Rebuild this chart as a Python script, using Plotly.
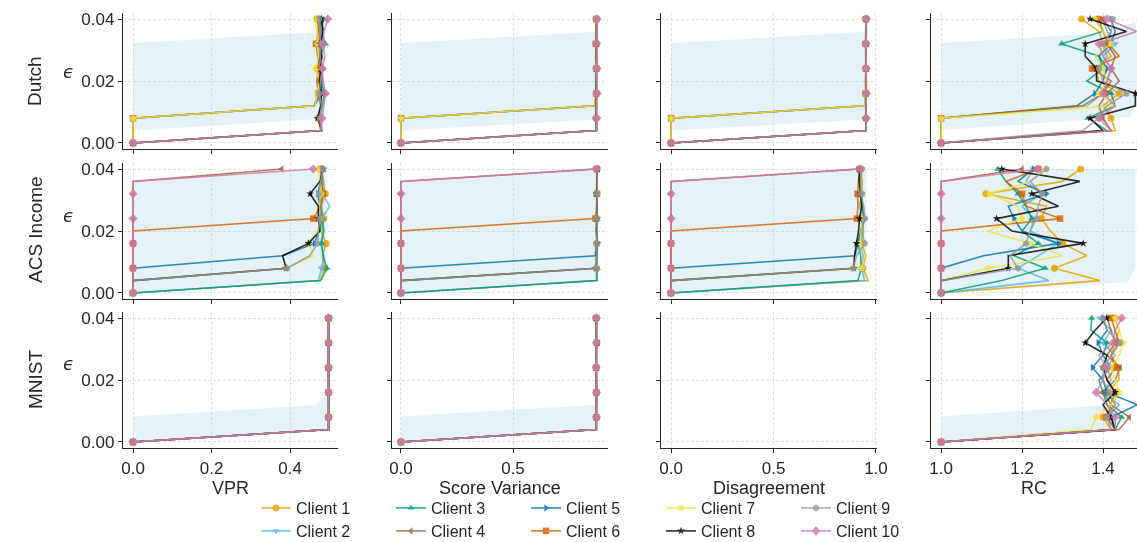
import plotly.graph_objects as go

# ---------------- data ----------------
EPS = [0.000, 0.004, 0.008, 0.012, 0.016, 0.020, 0.024, 0.028, 0.032, 0.036, 0.040]
CLIENTS = [f"Client {i}" for i in range(1, 11)]
DATASETS = ["Dutch", "ACS Income", "MNIST"]
METRICS = ["VPR", "Score Variance", "Disagreement", "RC"]

X_TICKS = [[0.0, 0.2, 0.4], [0.0, 0.5], [0.0, 0.5, 1.0], [1.0, 1.2, 1.4]]
Y_TICKS = [0.00, 0.02, 0.04]

DUTCH_VPR = [
    [0, 0.478, 0.472, 0.480, 0.475, 0.470, 0.468, 0.474, 0.470, 0.476, 0.468],
    [0, 0, 0, 0.462, 0.484, 0.478, 0.482, 0.476, 0.480, 0.474, 0.478],
    [0, 0.480, 0.476, 0.482, 0.488, 0.478, 0.482, 0.476, 0.490, 0.480, 0.485],
    [0, 0.479, 0.474, 0.478, 0.472, 0.480, 0.476, 0.482, 0.474, 0.478, 0.476],
    [0, 0, 0, 0.462, 0.476, 0.482, 0.478, 0.474, 0.480, 0.484, 0.479],
    [0, 0, 0, 0.461, 0.472, 0.468, 0.474, 0.470, 0.466, 0.472, 0.470],
    [0, 0, 0, 0.463, 0.470, 0.474, 0.466, 0.472, 0.470, 0.468, 0.466],
    [0, 0.481, 0.470, 0.478, 0.480, 0.474, 0.478, 0.480, 0.476, 0.484, 0.480],
    [0, 0.478, 0.476, 0.480, 0.474, 0.478, 0.482, 0.476, 0.478, 0.476, 0.474],
    [0, 0.480, 0.482, 0.486, 0.490, 0.484, 0.482, 0.488, 0.484, 0.486, 0.496],
]
DUTCH_SV = [
    [0, 0.872, 0.870, 0.874, 0.871, 0.873, 0.870, 0.872, 0.871, 0.873, 0.870],
    [0, 0, 0, 0.866, 0.873, 0.871, 0.874, 0.872, 0.870, 0.872, 0.873],
    [0, 0.873, 0.872, 0.870, 0.874, 0.872, 0.873, 0.871, 0.872, 0.874, 0.872],
    [0, 0.872, 0.871, 0.873, 0.870, 0.872, 0.871, 0.873, 0.872, 0.871, 0.872],
    [0, 0, 0, 0.866, 0.872, 0.873, 0.872, 0.870, 0.873, 0.872, 0.874],
    [0, 0, 0, 0.865, 0.871, 0.870, 0.872, 0.871, 0.870, 0.871, 0.872],
    [0, 0, 0, 0.866, 0.870, 0.872, 0.870, 0.873, 0.871, 0.870, 0.871],
    [0, 0.873, 0.872, 0.871, 0.873, 0.871, 0.873, 0.872, 0.874, 0.872, 0.873],
    [0, 0.872, 0.873, 0.872, 0.871, 0.873, 0.872, 0.874, 0.872, 0.873, 0.872],
    [0, 0.873, 0.874, 0.872, 0.876, 0.873, 0.874, 0.873, 0.872, 0.874, 0.875],
]
DUTCH_DIS = [
    [0, 0.952, 0.950, 0.953, 0.951, 0.949, 0.952, 0.950, 0.951, 0.953, 0.950],
    [0, 0, 0, 0.946, 0.952, 0.950, 0.953, 0.951, 0.949, 0.951, 0.952],
    [0, 0.953, 0.951, 0.950, 0.953, 0.952, 0.950, 0.952, 0.951, 0.953, 0.951],
    [0, 0.951, 0.952, 0.951, 0.950, 0.952, 0.951, 0.953, 0.950, 0.951, 0.952],
    [0, 0, 0, 0.946, 0.951, 0.952, 0.950, 0.951, 0.953, 0.950, 0.951],
    [0, 0, 0, 0.945, 0.950, 0.949, 0.951, 0.950, 0.949, 0.950, 0.951],
    [0, 0, 0, 0.946, 0.949, 0.951, 0.950, 0.952, 0.950, 0.949, 0.950],
    [0, 0.952, 0.950, 0.951, 0.952, 0.950, 0.952, 0.951, 0.953, 0.951, 0.952],
    [0, 0.951, 0.952, 0.951, 0.950, 0.952, 0.951, 0.952, 0.951, 0.952, 0.951],
    [0, 0.952, 0.953, 0.951, 0.954, 0.952, 0.953, 0.952, 0.951, 0.953, 0.954],
]
DUTCH_RC = [
    [1.0, 1.43, 1.42, 1.40, 1.44, 1.39, 1.38, 1.42, 1.40, 1.39, 1.347],
    [1.0, 1.0, 1.0, 1.36, 1.40, 1.41, 1.42, 1.40, 1.43, 1.41, 1.40],
    [1.0, 1.41, 1.363, 1.43, 1.42, 1.36, 1.40, 1.39, 1.298, 1.40, 1.38],
    [1.0, 1.42, 1.40, 1.39, 1.41, 1.44, 1.42, 1.43, 1.41, 1.42, 1.40],
    [1.0, 1.0, 1.0, 1.335, 1.38, 1.40, 1.41, 1.39, 1.42, 1.43, 1.42],
    [1.0, 1.0, 1.0, 1.35, 1.40, 1.42, 1.373, 1.44, 1.414, 1.40, 1.39],
    [1.0, 1.0, 1.0, 1.43, 1.39, 1.41, 1.40, 1.38, 1.42, 1.40, 1.38],
    [1.0, 1.40, 1.368, 1.48, 1.48, 1.384, 1.384, 1.356, 1.356, 1.458, 1.368],
    [1.0, 1.35, 1.39, 1.41, 1.458, 1.40, 1.39, 1.41, 1.40, 1.42, 1.424],
    [1.0, 1.42, 1.39, 1.43, 1.40, 1.41, 1.42, 1.40, 1.39, 1.483, 1.41],
]

ACS_VPR = [
    [0, 0.476, 0.488, 0.482, 0.492, 0.478, 0.486, 0.480, 0.490, 0.484, 0.480],
    [0, 0.472, 0.480, 0.486, 0.478, 0.484, 0.480, 0.501, 0.482, 0.486, 0.478],
    [0, 0.478, 0.494, 0.484, 0.480, 0.486, 0.482, 0.478, 0.484, 0.480, 0.482],
    [0, 0, 0, 0, 0, 0, 0, 0, 0, 0, 0.379],
    [0, 0, 0, 0.381, 0.462, 0.474, 0.480, 0.476, 0.470, 0.478, 0.482],
    [0, 0, 0, 0, 0, 0, 0.459, 0.478, 0.484, 0.480, 0.478],
    [0, 0, 0.392, 0.459, 0.446, 0.470, 0.478, 0.474, 0.480, 0.476, 0.472],
    [0, 0, 0.390, 0.381, 0.447, 0.476, 0.472, 0.472, 0.451, 0.476, 0.485],
    [0, 0, 0.392, 0.450, 0.470, 0.472, 0.476, 0.480, 0.474, 0.478, 0.484],
    [0, 0, 0, 0, 0, 0, 0, 0, 0, 0, 0.459],
]
ACS_SV = [
    [0, 0.874, 0.872, 0.876, 0.873, 0.875, 0.872, 0.874, 0.873, 0.875, 0.874],
    [0, 0.872, 0.874, 0.873, 0.877, 0.874, 0.876, 0.873, 0.875, 0.874, 0.873],
    [0, 0.875, 0.876, 0.874, 0.875, 0.873, 0.874, 0.876, 0.874, 0.873, 0.875],
    [0, 0, 0, 0, 0, 0, 0, 0, 0, 0, 0.872],
    [0, 0, 0, 0.867, 0.873, 0.875, 0.874, 0.876, 0.875, 0.874, 0.876],
    [0, 0, 0, 0, 0, 0, 0.868, 0.874, 0.875, 0.873, 0.874],
    [0, 0, 0.872, 0.876, 0.874, 0.875, 0.873, 0.874, 0.876, 0.875, 0.873],
    [0, 0, 0.871, 0.873, 0.875, 0.872, 0.874, 0.875, 0.873, 0.874, 0.876],
    [0, 0, 0.872, 0.874, 0.873, 0.875, 0.874, 0.873, 0.875, 0.876, 0.874],
    [0, 0, 0, 0, 0, 0, 0, 0, 0, 0, 0.870],
]
ACS_DIS = [
    [0, 0.962, 0.935, 0.950, 0.930, 0.940, 0.928, 0.935, 0.930, 0.932, 0.928],
    [0, 0.945, 0.930, 0.938, 0.925, 0.935, 0.940, 0.930, 0.932, 0.925, 0.930],
    [0, 0.912, 0.928, 0.925, 0.912, 0.930, 0.935, 0.922, 0.928, 0.930, 0.925],
    [0, 0, 0, 0, 0, 0, 0, 0, 0, 0, 0.915],
    [0, 0, 0, 0.898, 0.912, 0.925, 0.945, 0.932, 0.928, 0.924, 0.926],
    [0, 0, 0, 0, 0, 0, 0.907, 0.912, 0.910, 0.915, 0.920],
    [0, 0, 0.930, 0.945, 0.922, 0.928, 0.932, 0.925, 0.930, 0.928, 0.925],
    [0, 0, 0.892, 0.895, 0.905, 0.915, 0.920, 0.930, 0.925, 0.918, 0.920],
    [0, 0, 0.890, 0.905, 0.945, 0.930, 0.946, 0.940, 0.928, 0.925, 0.930],
    [0, 0, 0, 0, 0, 0, 0, 0, 0, 0, 0.922],
]
ACS_RC = [
    [1.0, 1.392, 1.28, 1.36, 1.30, 1.27, 1.248, 1.26, 1.111, 1.30, 1.345],
    [1.0, 1.266, 1.19, 1.24, 1.29, 1.22, 1.23, 1.20, 1.25, 1.21, 1.228],
    [1.0, 1.15, 1.257, 1.18, 1.24, 1.20, 1.224, 1.21, 1.19, 1.16, 1.14],
    [1.0, 1.0, 1.0, 1.0, 1.0, 1.0, 1.0, 1.0, 1.0, 1.0, 1.20],
    [1.0, 1.0, 1.0, 1.105, 1.29, 1.20, 1.18, 1.166, 1.26, 1.19, 1.228],
    [1.0, 1.0, 1.0, 1.0, 1.0, 1.0, 1.294, 1.21, 1.20, 1.16, 1.24],
    [1.0, 1.0, 1.115, 1.30, 1.22, 1.115, 1.20, 1.19, 1.12, 1.22, 1.26],
    [1.0, 1.0, 1.166, 1.166, 1.351, 1.175, 1.137, 1.29, 1.224, 1.343, 1.15],
    [1.0, 1.0, 1.19, 1.17, 1.21, 1.22, 1.236, 1.24, 1.25, 1.22, 1.26],
    [1.0, 1.0, 1.0, 1.0, 1.0, 1.0, 1.0, 1.0, 1.0, 1.0, 1.24],
]

MNIST_VPR = [
    [0, 0.498, 0.498, 0.498, 0.498, 0.498, 0.498, 0.498, 0.498, 0.498, 0.498]
    for _ in range(10)
]
MNIST_SV = [
    [0, 0.871, 0.872, 0.873, 0.872, 0.871, 0.870, 0.872, 0.873, 0.871, 0.870],
    [0, 0.872, 0.871, 0.872, 0.873, 0.872, 0.871, 0.873, 0.872, 0.872, 0.871],
    [0, 0.871, 0.873, 0.871, 0.872, 0.873, 0.872, 0.871, 0.873, 0.872, 0.872],
    [0, 0.872, 0.872, 0.873, 0.871, 0.872, 0.873, 0.872, 0.871, 0.873, 0.872],
    [0, 0.873, 0.871, 0.872, 0.874, 0.871, 0.872, 0.873, 0.872, 0.871, 0.873],
    [0, 0.871, 0.872, 0.871, 0.872, 0.873, 0.871, 0.872, 0.874, 0.872, 0.871],
    [0, 0.872, 0.873, 0.872, 0.871, 0.872, 0.870, 0.873, 0.872, 0.874, 0.871],
    [0, 0.871, 0.872, 0.873, 0.872, 0.871, 0.872, 0.871, 0.873, 0.872, 0.872],
    [0, 0.872, 0.871, 0.872, 0.873, 0.872, 0.871, 0.872, 0.871, 0.873, 0.872],
    [0, 0.872, 0.873, 0.872, 0.873, 0.872, 0.871, 0.873, 0.872, 0.874, 0.873],
]
MNIST_DIS = []
MNIST_RC = [
    [1.0, 1.42, 1.40, 1.43, 1.41, 1.44, 1.438, 1.42, 1.43, 1.44, 1.43],
    [1.0, 1.43, 1.41, 1.44, 1.40, 1.42, 1.41, 1.43, 1.40, 1.42, 1.392],
    [1.0, 1.43, 1.446, 1.41, 1.40, 1.39, 1.42, 1.40, 1.41, 1.37, 1.372],
    [1.0, 1.44, 1.465, 1.42, 1.40, 1.43, 1.442, 1.41, 1.43, 1.42, 1.41],
    [1.0, 1.43, 1.42, 1.485, 1.41, 1.40, 1.374, 1.40, 1.388, 1.41, 1.40],
    [1.0, 1.43, 1.409, 1.42, 1.43, 1.41, 1.43, 1.42, 1.44, 1.43, 1.42],
    [1.0, 1.37, 1.383, 1.42, 1.44, 1.43, 1.42, 1.44, 1.45, 1.44, 1.43],
    [1.0, 1.43, 1.42, 1.40, 1.43, 1.41, 1.40, 1.41, 1.356, 1.38, 1.409],
    [1.0, 1.42, 1.41, 1.43, 1.416, 1.40, 1.40, 1.42, 1.442, 1.41, 1.40],
    [1.0, 1.43, 1.43, 1.41, 1.383, 1.40, 1.41, 1.39, 1.425, 1.43, 1.446],
]

# shaded region outlines (metric value, epsilon)
BAND_DUTCH_VPR_X = [0.0, 0.485, 0.485, 0.0]
BAND_DUTCH_VPR_Y = [0.0040, 0.0078, 0.0359, 0.0322]
BAND_DUTCH_SV_X = [0.0, 0.866, 0.866, 0.0]
BAND_DUTCH_SV_Y = [0.0040, 0.0076, 0.0359, 0.0322]
BAND_DUTCH_DIS_X = [0.0, 0.950, 0.950, 0.0]
BAND_DUTCH_DIS_Y = [0.0040, 0.0076, 0.0359, 0.0322]
BAND_DUTCH_RC_X = [1.0, 1.47, 1.49, 1.49, 1.48, 1.40, 1.0]
BAND_DUTCH_RC_Y = [0.0042, 0.0085, 0.015, 0.030, 0.039, 0.0355, 0.0322]
BAND_ACS_VPR_X = [0.0, 0.480, 0.492, 0.492, 0.460, 0.0]
BAND_ACS_VPR_Y = [0.0, 0.004, 0.006, 0.040, 0.040, 0.036]
BAND_ACS_SV_X = [0.0, 0.870, 0.876, 0.876, 0.870, 0.0]
BAND_ACS_SV_Y = [0.0, 0.004, 0.006, 0.040, 0.040, 0.036]
BAND_ACS_DIS_X = [0.0, 0.930, 0.955, 0.955, 0.930, 0.0]
BAND_ACS_DIS_Y = [0.0, 0.004, 0.006, 0.040, 0.040, 0.036]
BAND_ACS_RC_X = [1.0, 1.46, 1.48, 1.48, 1.24, 1.0]
BAND_ACS_RC_Y = [0.0, 0.0035, 0.008, 0.040, 0.040, 0.036]
BAND_MNIST_VPR_X = [0.0, 0.493, 0.493, 0.465, 0.0]
BAND_MNIST_VPR_Y = [0.0, 0.004, 0.0152, 0.0119, 0.0082]
BAND_MNIST_SV_X = [0.0, 0.870, 0.870, 0.0]
BAND_MNIST_SV_Y = [0.0, 0.004, 0.012, 0.0082]
BAND_MNIST_RC_X = [1.0, 1.43, 1.40, 1.0]
BAND_MNIST_RC_Y = [0.0, 0.0035, 0.0118, 0.0083]

PANELS = [
    [(DUTCH_VPR, BAND_DUTCH_VPR_X, BAND_DUTCH_VPR_Y),
     (DUTCH_SV, BAND_DUTCH_SV_X, BAND_DUTCH_SV_Y),
     (DUTCH_DIS, BAND_DUTCH_DIS_X, BAND_DUTCH_DIS_Y),
     (DUTCH_RC, BAND_DUTCH_RC_X, BAND_DUTCH_RC_Y)],
    [(ACS_VPR, BAND_ACS_VPR_X, BAND_ACS_VPR_Y),
     (ACS_SV, BAND_ACS_SV_X, BAND_ACS_SV_Y),
     (ACS_DIS, BAND_ACS_DIS_X, BAND_ACS_DIS_Y),
     (ACS_RC, BAND_ACS_RC_X, BAND_ACS_RC_Y)],
    [(MNIST_VPR, BAND_MNIST_VPR_X, BAND_MNIST_VPR_Y),
     (MNIST_SV, BAND_MNIST_SV_X, BAND_MNIST_SV_Y),
     (MNIST_DIS, [], []),
     (MNIST_RC, BAND_MNIST_RC_X, BAND_MNIST_RC_Y)],
]

# ---------------- style ----------------
COLORS = ["#E69F00", "#56B4E9", "#009E73", "#9E6240", "#0072B2",
          "#D55E00", "#F0E442", "#000000", "#999999", "#CC79A7"]
SYMBOLS = ["circle", "triangle-down", "triangle-up", "triangle-left", "triangle-right",
           "square", "pentagon", "star", "hexagon", "diamond"]
SIZES = [7, 6.5, 6.5, 6.5, 6.5, 6.5, 7, 6, 7, 7]
W, H = 1137, 542
COL_PX = [(123, 338), (392, 608), (661, 877), (931, 1137)]
ROW_PX = [(13, 149), (163, 299), (312, 448)]
X_RANGES = [[-0.0255, 0.522], [-0.040, 0.924], [-0.049, 1.005], [0.975, 1.484]]
Y_RANGE = [-0.00194, 0.04194]
BAND_COLOR = "rgba(173,216,230,0.32)"
TXT = "#262626"
FONT = "Liberation Sans, Arial, sans-serif"

fig = go.Figure()
layout = dict(width=W, height=H, margin=dict(l=0, r=0, t=0, b=0, autoexpand=False),
              paper_bgcolor="white", plot_bgcolor="white",
              font=dict(family=FONT, color=TXT, size=17), showlegend=True)

for r in range(3):
    for c in range(4):
        k = r * 4 + c + 1
        xa, ya = f"x{k}", f"y{k}"
        data, bx, by = PANELS[r][c]
        # anchor trace so that every subplot draws its axes, even with no data
        fig.add_trace(go.Scatter(x=[None], y=[None], mode="lines", showlegend=False,
                                 hoverinfo="skip", xaxis=xa, yaxis=ya))
        if bx:
            fig.add_trace(go.Scatter(x=bx + [bx[0]], y=by + [by[0]], mode="lines",
                                     fill="toself", fillcolor=BAND_COLOR,
                                     line=dict(width=0), hoverinfo="skip",
                                     showlegend=False, xaxis=xa, yaxis=ya))
        for i, vals in enumerate(data):
            fig.add_trace(go.Scatter(x=vals, y=EPS, mode="lines",
                                     line=dict(color=COLORS[i], width=1.6),
                                     opacity=0.82, showlegend=False,
                                     xaxis=xa, yaxis=ya))
            fig.add_trace(go.Scatter(x=vals[::2], y=EPS[::2], mode="markers",
                                     marker=dict(color=COLORS[i], symbol=SYMBOLS[i], size=SIZES[i],
                                                 line=dict(width=0)),
                                     opacity=0.82, showlegend=False,
                                     xaxis=xa, yaxis=ya))
        x0, x1 = COL_PX[c]
        y0, y1 = ROW_PX[r]
        axis_common = dict(showline=True, linecolor=TXT, linewidth=1.3,
                           ticks="outside", ticklen=4, tickwidth=1.1, tickcolor=TXT,
                           showgrid=True, gridcolor="#e0e0e0", griddash="3px,2px",
                           gridwidth=0.8, zeroline=False, mirror=False,
                           tickfont=dict(size=17, color=TXT, family=FONT))
        layout[f"xaxis{k}"] = dict(axis_common, domain=[x0 / W, min(x1 / W, 1.0)],
                                   range=X_RANGES[c], anchor=ya,
                                   tickvals=X_TICKS[c], ticktext=[f"{v:.1f}" for v in X_TICKS[c]],
                                   showticklabels=(r == 2))
        layout[f"yaxis{k}"] = dict(axis_common, domain=[1 - y1 / H, 1 - y0 / H],
                                   range=Y_RANGE, anchor=xa,
                                   tickvals=Y_TICKS, ticktext=[f"{v:.2f}" for v in Y_TICKS],
                                   showticklabels=(c == 0))

# legend entries (two rows, column-major ordering like the original)
for i in range(10):
    fig.add_trace(go.Scatter(x=[None], y=[None], mode="lines+markers", name=CLIENTS[i],
                             line=dict(color=COLORS[i], width=1.6),
                             marker=dict(color=COLORS[i], symbol=SYMBOLS[i], size=SIZES[i]),
                             opacity=0.82,
                             legend="legend" if i % 2 == 0 else "legend2",
                             xaxis="x1", yaxis="y1"))

leg = dict(orientation="h", xanchor="left", yanchor="middle", x=256 / W,
           entrywidth=90, bgcolor="rgba(0,0,0,0)", font=dict(size=16, color=TXT, family=FONT),
           itemclick=False)
layout["legend"] = dict(leg, y=1 - 508 / H)
layout["legend2"] = dict(leg, y=1 - 531 / H)

ann = []
row_label_y = [81, 230, 379]
eps_y = [72, 215, 363]
for r in range(3):
    ann.append(dict(text=DATASETS[r], x=35 / W, y=1 - row_label_y[r] / H, xref="paper", yref="paper",
                    showarrow=False, textangle=-90, font=dict(size=19, color=TXT, family=FONT),
                    xanchor="center", yanchor="middle"))
    ann.append(dict(text="<i>ϵ</i>", x=68 / W, y=1 - eps_y[r] / H, xref="paper", yref="paper",
                    showarrow=False, font=dict(size=18, color=TXT, family="DejaVu Sans"),
                    xanchor="center", yanchor="middle"))
for c in range(4):
    x0, x1 = COL_PX[c]
    ann.append(dict(text=METRICS[c], x=(x0 + x1) / 2 / W, y=1 - 488 / H, xref="paper", yref="paper",
                    showarrow=False, font=dict(size=18, color=TXT, family=FONT),
                    xanchor="center", yanchor="middle"))
layout["annotations"] = ann

fig.update_layout(**layout)
fig.write_html("out.html")
